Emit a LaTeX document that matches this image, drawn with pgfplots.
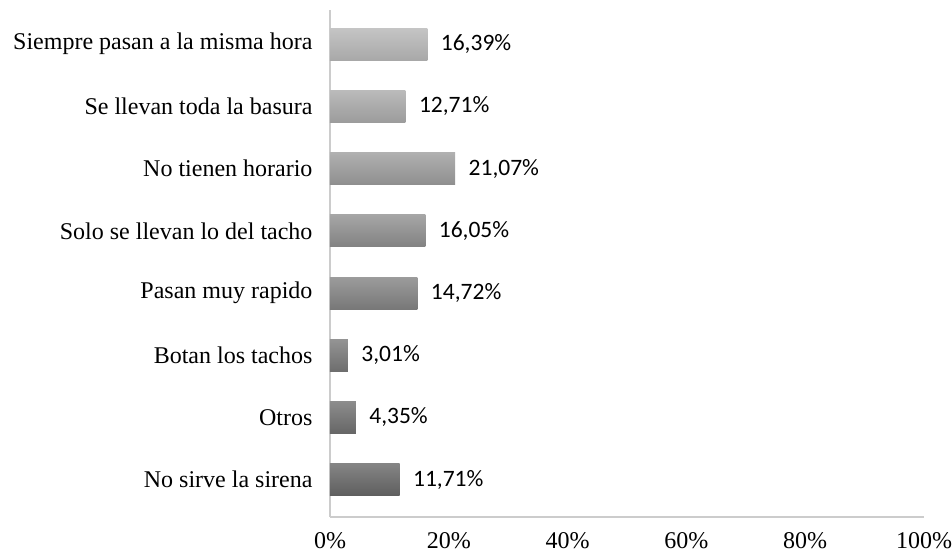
\documentclass[border=0pt]{standalone}
\usepackage{fontspec}
\setmainfont{Liberation Serif}
\newfontfamily\calibri{Carlito}
\usepackage{pgfplots}
\pgfplotsset{compat=1.18}
\begin{document}
\begin{tikzpicture}
\begin{axis}[
  name=ax,
  xbar,
  scale only axis,
  width=594pt, height=507pt,
  xmin=0, xmax=100,
  ymin=-0.6, ymax=7.55,
  bar width=32pt,
  bar shift=0pt,
  axis x line*=bottom,
  axis y line*=left,
  axis line style={draw=black!20, line width=1.2pt},
  xtick={0,20,40,60,80,100},
  xticklabels={0\%,20\%,40\%,60\%,80\%,100\%},
  ytick={0,1,2,3,4,5,6,7},
  yticklabels={No sirve la sirena,Otros,Botan los tachos,Pasan muy rapido,Solo se llevan lo del tacho,No tienen horario,Se llevan toda la basura,Siempre pasan a la misma hora},
  major tick length=0pt,
  tick label style={font=\fontsize{24}{27}\selectfont},
  xticklabel style={yshift=-12pt},
  yticklabel style={xshift=-14pt},
  /pgf/number format/assume math mode=true,
  point meta=explicit,
  nodes near coords={\pgfmathprintnumber[fixed,fixed zerofill,precision=2,use comma]{\pgfplotspointmeta}\%},
  nodes near coords align={horizontal},
  nodes near coords style={font=\calibri\fontsize{23.5}{27}\selectfont, text=black, anchor=west, xshift=10pt},
]
\addplot[draw=none, top color=black!48, bottom color=black!63] coordinates {(11.71,0) [11.71]};
\addplot[draw=none, top color=black!45, bottom color=black!60] coordinates {(4.35,1) [4.35]};
\addplot[draw=none, top color=black!42, bottom color=black!57] coordinates {(3.01,2) [3.01]};
\addplot[draw=none, top color=black!39, bottom color=black!53] coordinates {(14.72,3) [14.72]};
\addplot[draw=none, top color=black!35, bottom color=black!49] coordinates {(16.05,4) [16.05]};
\addplot[draw=none, top color=black!31, bottom color=black!44] coordinates {(21.07,5) [21.07]};
\addplot[draw=none, top color=black!27, bottom color=black!39] coordinates {(12.71,6) [12.71]};
\addplot[draw=none, top color=black!23, bottom color=black!34] coordinates {(16.39,7) [16.39]};
\end{axis}
\pgfresetboundingbox
\path (ax.south west) ++(-330pt,-36pt) coordinate (bl);
\path (ax.north east) ++(28pt,10pt) coordinate (tr);
\path (bl) rectangle (tr);
\end{tikzpicture}
\end{document}
